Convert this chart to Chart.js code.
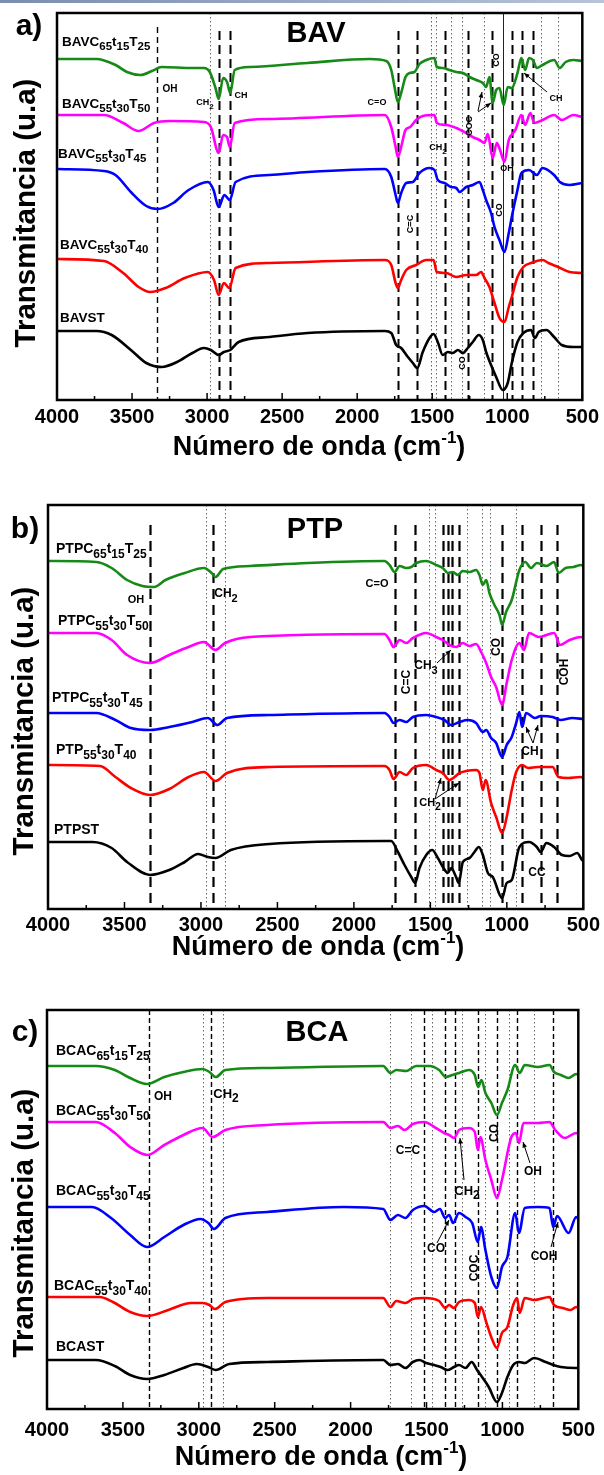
<!DOCTYPE html>
<html lang="es">
<head>
<meta charset="UTF-8">
<title>FTIR BAV / PTP / BCA</title>
<script src="https://cdn.jsdelivr.net/npm/chart.js"></script>
<style>
  html, body { margin: 0; padding: 0; background: #fff; }
  body { width: 604px; height: 1475px; position: relative; overflow: hidden; }
  .topbar { position: absolute; left: 0; top: 0; width: 604px; height: 3px;
            background: linear-gradient(90deg, #7b8db0, #b7c4d8); }
  canvas { position: absolute; left: 0; }
  #ca { top: 0; }
  #cb { top: 480px; }
  #cc { top: 970px; }
</style>
</head>
<body>
<div class="topbar"></div>
<canvas id="ca" width="604" height="480"></canvas>
<canvas id="cb" width="604" height="490"></canvas>
<canvas id="cc" width="604" height="505"></canvas>
<script>
// x axis ticks (cm-1)
const wnTicks = [4000, 3500, 3000, 2500, 2000, 1500, 1000, 500];

// ---- a) BAV : [wavenumber, transmittance (u.a, offset)] ----
const bavC65t15T25 = [[4000,341],[3738,341],[3610,335],[3534,328],[3444,325],[3367,329],[3303,333],[3098,332],[3021,332],[2982,328],[2944,312],[2923,301],[2893,322],[2867,318],[2846,307],[2816,330],[2713,333],[2330,337],[1917,341],[1806,339],[1773,330],[1751,313],[1729,298],[1707,307],[1678,323],[1651,327],[1618,328],[1585,336],[1540,340],[1485,342],[1470,333],[1430,332],[1385,330],[1340,328],[1296,327],[1252,323],[1207,320],[1163,317],[1141,313],[1119,323],[1097,297],[1074,310],[1052,312],[1024,295],[997,313],[970,312],[932,327],[906,342],[881,330],[855,342],[829,340],[803,332],[765,335],[688,340],[650,332],[611,338],[560,340],[500,339]];
const bavC55t30T50 = [[4000,285],[3687,285],[3559,277],[3456,269],[3354,277],[3251,279],[3022,278],[2975,273],[2923,247],[2893,265],[2867,263],[2849,253],[2816,277],[2585,281],[1816,285],[1773,273],[1744,253],[1729,243],[1707,253],[1678,270],[1647,273],[1607,280],[1563,284],[1485,285],[1470,277],[1407,275],[1340,272],[1274,267],[1230,263],[1185,260],[1152,257],[1130,266],[1097,242],[1070,257],[1048,250],[1019,238],[990,260],[946,270],[906,285],[881,275],[846,287],[820,277],[765,280],[688,285],[637,280],[560,285],[500,283]];
const bavC55t30T45 = [[4000,231],[3687,229],[3610,225],[3508,208],[3405,194],[3328,191],[3226,197],[3123,210],[2995,218],[2957,210],[2923,193],[2885,205],[2849,200],[2810,218],[2585,225],[2330,228],[1816,231],[1773,223],[1744,205],[1729,197],[1707,207],[1673,217],[1629,218],[1585,227],[1518,232],[1485,230],[1463,220],[1418,217],[1374,213],[1340,212],[1318,208],[1274,213],[1230,215],[1185,218],[1163,210],[1141,200],[1108,187],[1085,173],[1052,160],[1019,148],[990,167],[970,183],[932,210],[906,227],[855,230],[803,225],[765,232],[688,225],[650,218],[585,215],[500,217]];
const bavC55t30T40 = [[4000,141],[3687,139],[3559,127],[3456,113],[3379,108],[3277,112],[3149,122],[2995,128],[2954,120],[2923,105],[2888,117],[2852,112],[2810,132],[2585,137],[1816,140],[1773,135],[1744,117],[1729,112],[1707,120],[1673,130],[1607,135],[1540,140],[1491,140],[1470,128],[1407,127],[1340,123],[1274,125],[1207,125],[1174,128],[1152,122],[1119,113],[1085,97],[1052,82],[1019,78],[990,93],[970,103],[932,123],[893,133],[842,137],[765,140],[726,137],[662,133],[585,128],[500,127]];
const bavST = [[4000,69],[3738,69],[3636,65],[3508,50],[3405,37],[3303,33],[3200,38],[3098,47],[3021,52],[2975,50],[2923,45],[2888,48],[2846,50],[2790,58],[2585,63],[2330,67],[1816,69],[1773,67],[1740,55],[1707,52],[1662,43],[1629,37],[1600,32],[1563,48],[1518,62],[1491,66],[1463,58],[1430,45],[1396,48],[1363,47],[1329,50],[1296,47],[1263,52],[1230,58],[1190,65],[1163,60],[1141,48],[1108,35],[1074,23],[1030,10],[997,17],[970,37],[932,58],[893,67],[842,70],[816,62],[791,68],[739,70],[688,63],[637,55],[560,53],[500,53]];
const bavNames = ['BAVC_65t_15T_25', 'BAVC_55t_30T_50', 'BAVC_55t_30T_45', 'BAVC_55t_30T_40', 'BAVST'];
const bavDashed = [2923, 2846, 1730, 1600, 1412, 1259, 1105, 970, 901, 829];
const bavDashedThin = [3333];
const bavDotted = [2983, 1507, 1474, 1374, 1303, 1157, 778, 663];
const bavSolid = [1030];

// ---- b) PTP ----
const ptpC65t15T25 = [[4000,348],[3685,347],[3584,341],[3483,329],[3383,323],[3307,322],[3232,329],[3106,336],[2980,341],[2930,336],[2905,332],[2855,340],[2678,343],[2301,346],[1800,348],[1767,344],[1734,337],[1701,343],[1658,341],[1625,342],[1592,346],[1527,348],[1462,344],[1419,341],[1386,336],[1353,337],[1321,334],[1288,338],[1244,337],[1201,339],[1179,334],[1157,324],[1135,329],[1114,316],[1081,304],[1048,294],[1031,284],[1005,297],[968,309],[918,339],[880,347],[842,341],[804,346],[741,343],[691,347],[661,336],[616,341],[565,342],[515,344],[500,343]];
const ptpC55t30T50 = [[4000,276],[3685,276],[3584,269],[3483,254],[3333,246],[3207,254],[3081,262],[2980,267],[2905,259],[2842,266],[2678,272],[1800,275],[1767,269],[1741,262],[1701,269],[1658,266],[1614,271],[1527,276],[1462,272],[1419,269],[1375,264],[1332,262],[1288,266],[1244,263],[1201,265],[1168,257],[1135,246],[1103,232],[1070,222],[1031,204],[1001,226],[968,249],[918,266],[888,259],[855,276],[791,272],[691,276],[652,264],[590,269],[515,272],[500,271]];
const ptpC55t30T45 = [[4000,196],[3685,196],[3559,189],[3458,181],[3333,179],[3207,182],[3056,187],[2955,191],[2892,184],[2830,191],[2553,194],[1800,196],[1767,192],[1741,186],[1701,189],[1658,187],[1614,192],[1527,194],[1462,192],[1408,189],[1364,184],[1310,187],[1255,189],[1201,186],[1157,177],[1135,179],[1103,171],[1070,166],[1031,152],[1001,164],[968,172],[939,186],[918,197],[900,182],[874,196],[816,191],[778,193],[701,192],[649,189],[572,191],[500,190]];
const ptp55t30T40 = [[4000,144],[3660,143],[3559,132],[3458,121],[3333,114],[3207,120],[3081,132],[2980,137],[2905,128],[2830,136],[2553,142],[1800,143],[1767,139],[1741,130],[1701,137],[1658,134],[1614,141],[1527,144],[1462,139],[1419,136],[1375,129],[1342,132],[1310,136],[1266,138],[1201,139],[1179,136],[1157,119],[1139,129],[1103,106],[1070,92],[1031,76],[1001,92],[968,119],[939,137],[900,144],[861,141],[797,142],[701,142],[662,132],[598,131],[520,132],[500,131]];
const ptpST = [[4000,67],[3710,67],[3584,61],[3483,47],[3333,34],[3207,39],[3106,47],[3018,55],[2955,52],[2905,51],[2805,59],[2553,65],[1800,68],[1756,68],[1712,57],[1669,44],[1625,32],[1599,26],[1571,41],[1527,54],[1488,59],[1451,51],[1414,41],[1386,36],[1364,41],[1332,32],[1314,26],[1288,47],[1244,51],[1212,57],[1183,62],[1157,54],[1124,36],[1092,32],[1031,11],[1001,26],[968,29],[918,62],[855,67],[804,62],[779,57],[741,66],[691,62],[640,54],[590,53],[540,56],[508,49],[500,48]];
const ptpNames = ['PTPC_65t_15T_25', 'PTPC_55t_30T_50', 'PTPC_55t_30T_45', 'PTP_55t_30T_40', 'PTPST'];
const ptpDashed = [3333, 2918, 1734, 1599, 1419, 1386, 1357, 1310, 1031, 900, 779, 670];
const ptpDotted = [2969, 2843, 1510, 1467, 1259, 1163, 1107, 943];

// ---- c) BCA ----
const bcaC65t15T25 = [[4000,343],[3679,343],[3553,339],[3452,331],[3340,325],[3227,332],[3101,337],[2975,340],[2930,337],[2888,332],[2825,339],[2549,341],[1785,343],[1738,336],[1699,339],[1634,338],[1568,343],[1482,343],[1417,339],[1373,332],[1329,334],[1286,336],[1221,339],[1182,334],[1160,322],[1138,329],[1112,316],[1073,306],[1036,294],[1003,306],[967,319],[916,344],[886,336],[853,344],[766,342],[690,344],[660,337],[615,334],[564,331],[514,335],[500,334]];
const bcaC55t30T50 = [[4000,287],[3679,287],[3553,276],[3452,262],[3340,254],[3227,264],[3101,274],[2975,281],[2910,272],[2825,279],[2549,284],[1785,287],[1738,281],[1688,283],[1645,279],[1590,285],[1514,287],[1438,281],[1384,276],[1351,274],[1319,271],[1286,279],[1221,281],[1182,277],[1162,259],[1145,272],[1112,249],[1073,229],[1036,211],[1003,229],[941,272],[911,276],[891,266],[861,286],[766,286],[690,287],[652,279],[590,271],[514,276],[500,275]];
const bcaC55t30T45 = [[4000,202],[3704,202],[3578,191],[3452,174],[3340,162],[3227,172],[3101,184],[2988,190],[2937,186],[2900,180],[2825,191],[2549,197],[2046,202],[1785,200],[1738,189],[1688,194],[1639,191],[1590,199],[1514,203],[1449,197],[1412,200],[1377,191],[1351,194],[1325,186],[1286,196],[1243,192],[1199,186],[1162,167],[1141,182],[1112,159],[1073,132],[1036,121],[1003,142],[967,152],[916,196],[891,176],[853,201],[766,202],[690,201],[665,182],[640,193],[564,176],[514,192],[500,190]];
const bcaC55t30T40 = [[4000,112],[3653,112],[3566,107],[3452,97],[3340,93],[3201,99],[3051,106],[2975,106],[2930,104],[2895,100],[2825,107],[2549,111],[1785,111],[1738,102],[1699,108],[1639,106],[1590,110],[1514,111],[1417,108],[1377,101],[1351,104],[1319,101],[1286,107],[1221,109],[1182,106],[1162,92],[1141,102],[1105,86],[1066,69],[1036,61],[1003,76],[967,82],[929,104],[904,111],[886,96],[853,111],[791,109],[690,112],[660,104],[602,101],[551,99],[514,102],[500,101]];
const bcaST = [[4000,49],[3679,49],[3553,43],[3452,34],[3340,30],[3227,34],[3101,41],[3013,45],[2937,42],[2888,39],[2800,45],[2549,47],[1785,49],[1738,44],[1688,45],[1639,41],[1590,47],[1547,49],[1503,46],[1449,44],[1406,42],[1362,39],[1319,42],[1286,44],[1243,41],[1203,47],[1167,39],[1134,32],[1090,22],[1036,7],[1003,16],[967,32],[929,44],[891,47],[853,46],[791,51],[715,47],[665,44],[615,42],[514,41],[500,41]];
const bcaNames = ['BCAC_65t_15T_25', 'BCAC_55t_30T_50', 'BCAC_55t_30T_45', 'BCAC_55t_30T_40', 'BCAST'];
const bcaDashed = [3327, 2920, 1514, 1379, 1312, 1162, 1036, 904, 670];
const bcaDotted = [2971, 2842, 1738, 1601, 1464, 1264, 1112, 954, 791];

const curveColors = ['#168a16', '#ff00ff', '#0000ff', '#ff0000', '#000000'];

// layout of each panel (page pixels)
const panels = [
  { id: 'ca', top: 0, left: 57, right: 21, frameTop: 13, axisH: 80, tickPad: 5, yMax: 387,
    series: [bavC65t15T25, bavC55t30T50, bavC55t30T45, bavC55t30T40, bavST], names: bavNames,
    labelPos: [[62, 42], [62, 104], [58, 154], [60, 245], [60, 318]], labelSize: [13.5, 11.5],
    dashed: bavDashed, dashedThin: bavDashedThin, dotted: bavDotted, solid: bavSolid,
    dashW: 2, dashPat: [9, 5], dashTop: 18,
    letter: 'a)', letterPos: [29, 27], name: 'BAV', namePos: [316, 34], yTitle: [27, 213], xTitle: [319, 448],
    notes: [
      { t: 'OH', x: 170, y: 89, s: 10 }, { t: 'CH_2', x: 205, y: 103, s: 9 }, { t: 'CH', x: 241, y: 96, s: 9 },
      { t: 'C=O', x: 377, y: 103, s: 9 }, { t: 'CO', x: 497, y: 60, s: 9, r: true }, { t: 'COC', x: 470, y: 126, s: 9, r: true },
      { t: 'CH', x: 556, y: 99, s: 9 }, { t: 'CH_2', x: 438, y: 148, s: 9 }, { t: 'OH', x: 507, y: 169, s: 9 },
      { t: 'CO', x: 500, y: 210, s: 9, r: true }, { t: 'C=C', x: 411, y: 224, s: 9, r: true }, { t: 'CO', x: 463, y: 363, s: 9, r: true }
    ],
    arrows: [[478, 111, 482, 92], [478, 112, 491, 103], [547, 92, 524, 73]] },
  { id: 'cb', top: 480, left: 48, right: 20, frameTop: 25, axisH: 61, tickPad: 4, yMax: 404,
    series: [ptpC65t15T25, ptpC55t30T50, ptpC55t30T45, ptp55t30T40, ptpST], names: ptpNames,
    labelPos: [[56, 549], [58, 621], [52, 698], [56, 750], [54, 830]], labelSize: [14, 12],
    dashed: ptpDashed, dashedThin: [], dotted: ptpDotted, solid: [],
    dashW: 2.2, dashPat: [10, 6], dashTop: 20,
    letter: 'b)', letterPos: [25, 530], name: 'PTP', namePos: [315, 530], yTitle: [25, 721], xTitle: [318, 948],
    notes: [
      { t: 'OH', x: 136, y: 600, s: 11 }, { t: 'CH_2', x: 226, y: 594, s: 12 }, { t: 'C=O', x: 377, y: 584, s: 11 },
      { t: 'C=C', x: 407, y: 682, s: 12, r: true }, { t: 'CH_3', x: 426, y: 666, s: 12 }, { t: 'CO', x: 497, y: 647, s: 12, r: true },
      { t: 'COH', x: 565, y: 672, s: 12, r: true }, { t: 'CH', x: 530, y: 752, s: 12 }, { t: 'CH_2', x: 430, y: 803, s: 11 },
      { t: 'CC', x: 537, y: 873, s: 12 }
    ],
    arrows: [[437, 663, 451, 650], [533, 743, 526, 727], [533, 743, 538, 725], [435, 799, 441, 778], [435, 799, 459, 783]] },
  { id: 'cc', top: 970, left: 47, right: 20, frameTop: 40, axisH: 66, tickPad: 9, yMax: 399,
    series: [bcaC65t15T25, bcaC55t30T50, bcaC55t30T45, bcaC55t30T40, bcaST], names: bcaNames,
    labelPos: [[56, 1051], [56, 1111], [56, 1191], [54, 1286], [56, 1347]], labelSize: [14, 12],
    dashed: [], dashedThin: bcaDashed, dotted: bcaDotted, solid: [],
    dashW: 1.3, dashPat: [5, 3], dashTop: 0,
    letter: 'c)', letterPos: [25, 1033], name: 'BCA', namePos: [317, 1033], yTitle: [25, 1223], xTitle: [321, 1458],
    notes: [
      { t: 'OH', x: 163, y: 1097, s: 12 }, { t: 'CH_2', x: 226, y: 1094, s: 13 }, { t: 'C=C', x: 408, y: 1151, s: 12 },
      { t: 'CH_2', x: 467, y: 1191, s: 13 }, { t: 'CO', x: 495, y: 1133, s: 12, r: true }, { t: 'OH', x: 533, y: 1172, s: 12 },
      { t: 'CO', x: 436, y: 1249, s: 12 }, { t: 'COC', x: 475, y: 1268, s: 12, r: true }, { t: 'COH', x: 544, y: 1257, s: 12 }
    ],
    arrows: [[464, 1180, 460, 1138], [530, 1163, 523, 1142], [437, 1243, 449, 1220], [551, 1247, 558, 1222]] }
];

const FONT = 'Arial, "Liberation Sans", Helvetica, sans-serif';

// text with _NN subscripts, drawn from x (left) or centred
function richText(ctx, str, x, y, size, subSize, centre) {
  const segs = str.split(/(_\d+)/).filter(s => s.length).map(s => {
    const sub = s[0] === '_';
    const t = sub ? s.slice(1) : s;
    ctx.font = 'bold ' + (sub ? subSize : size) + 'px ' + FONT;
    return { t, sub, w: ctx.measureText(t).width };
  });
  const total = segs.reduce((a, s) => a + s.w, 0);
  let cx = centre ? x - total / 2 : x;
  ctx.textAlign = 'left';
  ctx.textBaseline = 'middle';
  segs.forEach(s => {
    ctx.font = 'bold ' + (s.sub ? subSize : size) + 'px ' + FONT;
    ctx.fillText(s.t, cx, s.sub ? y + size * 0.38 : y);
    cx += s.w;
  });
}

function arrow(ctx, x1, y1, x2, y2) {
  const ang = Math.atan2(y2 - y1, x2 - x1);
  ctx.beginPath();
  ctx.moveTo(x1, y1);
  ctx.lineTo(x2, y2);
  ctx.stroke();
  ctx.beginPath();
  ctx.moveTo(x2, y2);
  ctx.lineTo(x2 - 6 * Math.cos(ang - 0.4), y2 - 6 * Math.sin(ang - 0.4));
  ctx.lineTo(x2 - 6 * Math.cos(ang + 0.4), y2 - 6 * Math.sin(ang + 0.4));
  ctx.closePath();
  ctx.fill();
}

function decor(p) {
  return {
    id: 'decor',
    beforeDatasetsDraw(chart) {
      const { ctx, chartArea: a, scales: { x } } = chart;
      ctx.save();
      const vlines = (list, w, dash, color, y0) => list.forEach(v => {
        const px = Math.round(x.getPixelForValue(v)) + 0.5;
        ctx.beginPath();
        ctx.lineWidth = w;
        ctx.setLineDash(dash);
        ctx.strokeStyle = color;
        ctx.moveTo(px, a.top + y0);
        ctx.lineTo(px, a.bottom);
        ctx.stroke();
      });
      vlines(p.dotted, 1, [1.5, 2.5], '#666', 0);
      vlines(p.solid, 1, [], '#222', 0);
      vlines(p.dashedThin, 1.4, p.id === 'cc' ? [5, 3] : [6, 4], '#000', p.id === 'cc' ? 0 : 14);
      vlines(p.dashed, p.dashW, p.dashPat, '#000', p.dashTop);
      ctx.restore();
    },
    afterDraw(chart) {
      const { ctx, chartArea: a, scales: { x } } = chart;
      const off = p.top;
      ctx.save();
      // frame + inward ticks
      ctx.strokeStyle = '#000';
      ctx.lineWidth = 2.5;
      ctx.setLineDash([]);
      ctx.strokeRect(a.left, a.top, a.right - a.left, a.bottom - a.top);
      ctx.lineWidth = 1.5;
      for (let v = 500; v <= 4000; v += 250) {
        const px = x.getPixelForValue(v);
        const len = v % 500 === 0 ? 7 : 4;
        ctx.beginPath();
        ctx.moveTo(px, a.bottom);
        ctx.lineTo(px, a.bottom - len);
        ctx.stroke();
      }
      ctx.fillStyle = '#000';
      // series names
      p.names.forEach((n, i) => richText(ctx, n, p.labelPos[i][0], p.labelPos[i][1] - off, p.labelSize[0], p.labelSize[1], false));
      // band notes
      p.notes.forEach(n => {
        if (n.r) {
          ctx.save();
          ctx.translate(n.x, n.y - off);
          ctx.rotate(-Math.PI / 2);
          richText(ctx, n.t, 0, 0, n.s, n.s - 2, true);
          ctx.restore();
        } else {
          richText(ctx, n.t, n.x, n.y - off, n.s, n.s - 1, true);
        }
      });
      ctx.lineWidth = 1;
      p.arrows.forEach(r => arrow(ctx, r[0], r[1] - off, r[2], r[3] - off));
      // panel letter, name, axis titles
      ctx.textAlign = 'center';
      ctx.textBaseline = 'middle';
      ctx.font = 'bold 30px ' + FONT;
      ctx.fillText(p.letter, p.letterPos[0], p.letterPos[1] - off);
      ctx.font = 'bold 29px ' + FONT;
      ctx.fillText(p.name, p.namePos[0], p.namePos[1] - off);
      ctx.save();
      ctx.translate(p.yTitle[0], p.yTitle[1] - off);
      ctx.rotate(-Math.PI / 2);
      ctx.font = 'bold 29.5px ' + FONT;
      ctx.fillText('Transmitancia (u.a)', 0, 0);
      ctx.restore();
      // x title with superscript
      const main = 'Número de onda (cm', sup = '-1', end = ')';
      ctx.font = 'bold 27px ' + FONT;
      const w1 = ctx.measureText(main).width, w3 = ctx.measureText(end).width;
      ctx.font = 'bold 17px ' + FONT;
      const w2 = ctx.measureText(sup).width;
      let tx = p.xTitle[0] - (w1 + w2 + w3) / 2;
      const ty = p.xTitle[1] - off;
      ctx.textAlign = 'left';
      ctx.font = 'bold 27px ' + FONT;
      ctx.fillText(main, tx, ty);
      ctx.font = 'bold 17px ' + FONT;
      ctx.fillText(sup, tx + w1, ty - 10);
      ctx.font = 'bold 27px ' + FONT;
      ctx.fillText(end, tx + w1 + w2, ty);
      ctx.restore();
    }
  };
}

panels.forEach(p => {
  new Chart(document.getElementById(p.id), {
    type: 'line',
    data: {
      datasets: p.series.map((s, i) => ({
        data: s.map(pt => ({ x: pt[0], y: pt[1] })),
        borderColor: curveColors[i],
        borderWidth: 2.6,
        pointRadius: 0,
        fill: false,
        cubicInterpolationMode: 'monotone'
      }))
    },
    options: {
      responsive: false,
      animation: false,
      layout: { padding: { left: p.left, right: p.right, top: p.frameTop, bottom: 0 } },
      plugins: { legend: { display: false }, tooltip: { enabled: false } },
      scales: {
        x: {
          type: 'linear', reverse: true, min: 500, max: 4000,
          afterBuildTicks: s => { s.ticks = wnTicks.map(v => ({ value: v })); },
          afterFit: s => { s.height = p.axisH; },
          ticks: { color: '#000', padding: p.tickPad, maxRotation: 0, autoSkip: false,
                   font: { family: FONT, weight: 'bold', size: 20 },
                   callback: v => String(v) },
          grid: { display: false, drawTicks: false },
          border: { display: false }
        },
        y: { display: false, min: 0, max: p.yMax }
      }
    },
    plugins: [decor(p)]
  });
});
</script>
</body>
</html>
